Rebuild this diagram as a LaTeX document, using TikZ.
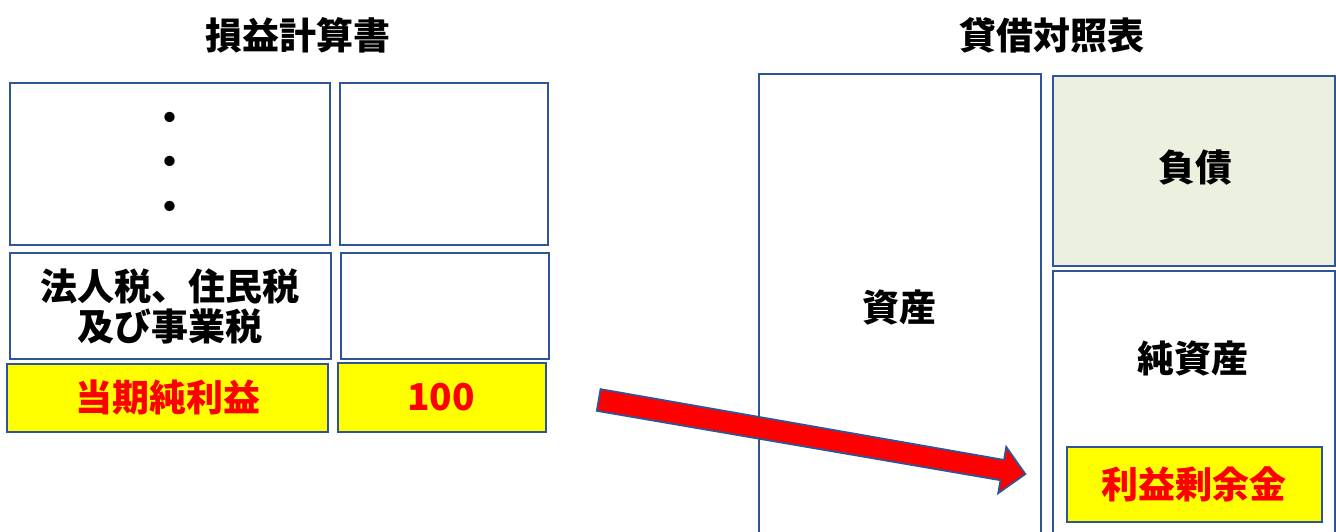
\documentclass[tikz,border=0pt]{standalone}
\usepackage{fontspec}
\setmainfont{Noto Sans CJK JP}
\definecolor{bordblue}{RGB}{47,85,151}
\definecolor{lightgreen}{RGB}{235,241,222}
\definecolor{yel}{RGB}{255,255,0}
\definecolor{redtxt}{RGB}{255,0,0}
\tikzset{
  box/.style={draw=bordblue, line width=2.2pt},
  lbl/.style={font=\fontsize{37}{40}\selectfont\bfseries, inner sep=0pt, align=center},
  title/.style={lbl},
}
\begin{document}
\begin{tikzpicture}[x=1pt,y=-1pt]
\clip (0,0) rectangle (1336,531);
\fill[white] (0,0) rectangle (1336,531);
% titles
\node[title] (plt) at (298,35) {損益計算書};
\node[title] (bst) at (1052,35) {貸借対照表};
% income statement
\draw[box, fill=white] (10,83) rectangle (330,245);
\draw[box, fill=white] (340,83) rectangle (548,245);
\node[lbl] (d1) at (170,122) {・};
\node[lbl] (d2) at (170,166) {・};
\node[lbl] (d3) at (170,211) {・};
\draw[box, fill=white] (10,253) rectangle (331,359);
\draw[box, fill=white] (341,253) rectangle (549,359);
\node[lbl] (tax) at (170,306) {法人税、住民税\\及び事業税};
\draw[box, fill=yel] (7,364) rectangle (328,432);
\draw[box, fill=yel] (338,363) rectangle (546,432);
\node[lbl, text=redtxt] (ni) at (168,397) {当期純利益};
\node[lbl, text=redtxt] (hund) at (441,397) {100};
% balance sheet
\draw[box, fill=white] (759,74) rectangle (1041,545);
\node[lbl] (asset) at (899,307) {資産};
\draw[box, fill=lightgreen] (1053,76) rectangle (1335,266);
\node[lbl] (liab) at (1195,168) {負債};
\draw[box, fill=white] (1053,271) rectangle (1335,545);
\node[lbl] (eq) at (1193,358) {純資産};
\draw[box, fill=yel] (1067,447) rectangle (1322,522);
\node[lbl, text=redtxt] (re) at (1194,484) {利益剰余金};
% arrow
\coordinate (atail) at (598.7,400);
\coordinate (atip) at (1025,474);
\begin{scope}[shift={(atail)}, rotate=-9.85]
\draw[draw=bordblue, line width=1.8pt, fill=red, line join=miter]
  (0,-11) -- (409.6,-10.3) -- (409.6,-23.4) -- (433,0) -- (409.6,23.4) -- (409.6,10.3) -- (0,11) -- cycle;
\end{scope}
\end{tikzpicture}
\end{document}
